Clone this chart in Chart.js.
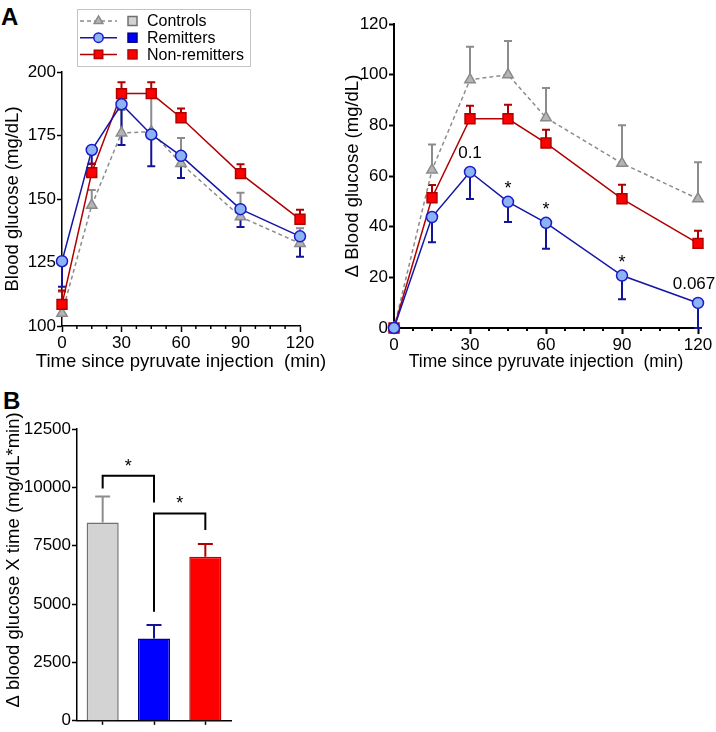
<!DOCTYPE html>
<html>
<head>
<meta charset="utf-8">
<script src="https://cdn.jsdelivr.net/npm/chart.js@4.4.1/dist/chart.umd.min.js"></script>
<style>
  body { margin: 0; background: #fff; width: 716px; height: 732px; position: relative; overflow: hidden; font-family: "Liberation Sans", Arial, sans-serif; }
  canvas { position: absolute; }
  .panel { position: absolute; font-weight: bold; font-size: 24px; line-height: 1; }
</style>
</head>
<body>
<div class="panel" style="left:1px;top:5px">A</div>
<div class="panel" style="left:3px;top:389px">B</div>
<canvas id="rawChart" width="360" height="380" style="left:0;top:0"></canvas>
<canvas id="deltaChart" width="386" height="380" style="left:330px;top:0"></canvas>
<canvas id="aucChart" width="360" height="352" style="left:0;top:380px"></canvas>
<script>
// ---- data ----
const timePoints = [0, 15, 30, 45, 60, 90, 120];
const groupNames = ['Controls', 'Remitters', 'Non-remitters'];

// blood glucose (mg/dL), error shown one-sided
const controlsGlucose = [105, 147.5, 176, 176.5, 164, 143, 132.5];
const controlsGlucoseErr = [8.5, 6, 9, 14.5, 10, 9.5, 6];
const remittersGlucose = [125.5, 169.3, 187.3, 175.4, 167, 146, 135.3];
const remittersGlucoseErr = [10, 5.5, 16, 12.5, 8.7, 7, 8];
const nonRemittersGlucose = [108.5, 160.4, 191.5, 191.5, 182, 160, 142];
const nonRemittersGlucoseErr = [5.5, 3.6, 4.5, 4.5, 3.6, 3.7, 3.8];

// delta blood glucose (mg/dL)
const controlsDelta = [0, 62.4, 98, 100, 83, 65, 51];
const controlsDeltaErr = [0, 10, 13, 13.3, 11.7, 15, 14.4];
const remittersDelta = [0, 43.8, 61.6, 49.8, 41.5, 20.7, 9.9];
const remittersDeltaErr = [0, 10, 10.7, 8, 10.2, 9.4, 9.9];
const nonRemittersDelta = [0, 51.4, 82.6, 82.6, 73, 51, 33.4];
const nonRemittersDeltaErr = [0, 5, 5.1, 5.5, 5.3, 5.5, 5];
const remittersNotes = ['', '', '0.1', '*', '*', '*', '0.067'];

// area under the curve (mg/dL*min)
const aucValues = [8490, 3530, 7030];
const aucErr = [1120, 570, 540];
const aucBrackets = [
    { from: 0, to: 1, top: 10500, leftEnd: 9950, rightEnd: 9350, label: '*' },
    { from: 1, to: 2, top: 8880, leftEnd: 4670, rightEnd: 8170, label: '*' },
];

// ---- styles ----
const styles = [
    { line: '#8c8c8c', dash: [4, 3], point: 'triangle', radius: 6, pointFill: '#b4b4b4', pointBorder: '#8a8a8a', err: '#8c8c8c', dir: 1, barFill: '#d3d3d3', barBorder: '#707070', order: 2 },
    { line: '#1515a8', dash: [], point: 'circle', radius: 5.5, pointFill: '#8cb4f5', pointBorder: '#1a1ac8', err: '#14149a', dir: -1, barFill: '#0000ff', barBorder: '#00008a', order: 0 },
    { line: '#b00000', dash: [], point: 'rect', radius: 7, pointFill: '#ff0000', pointBorder: '#b00000', err: '#b00000', dir: 1, barFill: '#ff0000', barBorder: '#c00000', order: 1 },
];

const FONT = '"Liberation Sans", Arial, sans-serif';
Chart.defaults.font.family = FONT;
Chart.defaults.color = '#000';

// one-sided error bars (direction taken from each dataset)
const errorBarPlugin = {
    id: 'errorBars',
    beforeDatasetsDraw(chart, args, opts) {
        const ctx = chart.ctx;
        const yScale = chart.scales.y;
        chart.data.datasets.forEach((ds, i) => {
            if (!ds.errors) return;
            const meta = chart.getDatasetMeta(i);
            ctx.save();
            ctx.strokeStyle = ds.errorColor;
            ctx.lineWidth = opts.width;
            meta.data.forEach((el, j) => {
                const err = ds.errors[j];
                if (!err) return;
                const d = ds.data[j];
                const v = typeof d === 'object' ? d.y : d;
                const y0 = yScale.getPixelForValue(v);
                const y1 = yScale.getPixelForValue(v + ds.errorDir * err);
                ctx.beginPath();
                ctx.moveTo(el.x, y0);
                ctx.lineTo(el.x, y1);
                ctx.moveTo(el.x - opts.cap, y1);
                ctx.lineTo(el.x + opts.cap, y1);
                ctx.stroke();
            });
            ctx.restore();
        });
    }
};

// short unlabelled ticks between the major ones
const minorTicksPlugin = {
    id: 'minorTicks',
    afterDraw(chart, args, opts) {
        const xs = chart.scales.x;
        const ctx = chart.ctx;
        const yb = chart.chartArea.bottom;
        ctx.save();
        ctx.strokeStyle = '#000';
        ctx.lineWidth = opts.width;
        for (let v = xs.min; v <= xs.max; v += opts.step) {
            if (v % opts.major === 0) continue;
            const px = xs.getPixelForValue(v);
            ctx.beginPath();
            ctx.moveTo(px, yb);
            ctx.lineTo(px, yb + opts.length);
            ctx.stroke();
        }
        ctx.restore();
    }
};

// axis titles that may run past the ends of their axis
const axisTitles = items => ({
    id: 'axisTitles',
    afterDraw(chart) {
        const ctx = chart.ctx;
        items.forEach(t => {
            const s = chart.scales[t.axis];
            ctx.save();
            ctx.font = t.size + 'px ' + FONT;
            ctx.fillStyle = '#000';
            ctx.textAlign = 'center';
            ctx.textBaseline = 'middle';
            if (t.axis === 'x') {
                ctx.fillText(t.text, (s.left + s.right) / 2, s.bottom - t.offset);
            } else {
                ctx.translate(t.offset, (s.top + s.bottom) / 2 + t.shift);
                ctx.rotate(-Math.PI / 2);
                ctx.fillText(t.text, 0, 0);
            }
            ctx.restore();
        });
    }
});

// text above points (p values / stars)
const pointNotesPlugin = {
    id: 'pointNotes',
    afterDatasetsDraw(chart) {
        const ctx = chart.ctx;
        chart.data.datasets.forEach((ds, i) => {
            if (!ds.notes) return;
            const meta = chart.getDatasetMeta(i);
            ctx.save();
            ctx.fillStyle = '#000';
            ctx.textAlign = 'center';
            ctx.textBaseline = 'middle';
            meta.data.forEach((el, j) => {
                const t = ds.notes[j];
                if (!t) return;
                if (t === '*') {
                    ctx.font = '18px ' + FONT;
                    ctx.fillText(t, el.x, el.y - 13);
                } else {
                    ctx.font = '17px ' + FONT;
                    ctx.fillText(t, el.x - (j === timePoints.length - 1 ? 4 : 0), el.y - 19);
                }
            });
            ctx.restore();
        });
    }
};

// legend: line sample + bar swatch + name
const groupLegendPlugin = {
    id: 'groupLegend',
    afterDraw(chart) {
        const ctx = chart.ctx;
        ctx.save();
        ctx.strokeStyle = '#c4c4c4';
        ctx.lineWidth = 1;
        ctx.strokeRect(77.5, 9.5, 173, 57);
        groupNames.forEach((name, i) => {
            const s = styles[i];
            const y = 21 + i * 16.7;
            ctx.strokeStyle = s.line;
            ctx.lineWidth = 1.5;
            ctx.setLineDash(s.dash);
            ctx.beginPath();
            ctx.moveTo(80, y);
            ctx.lineTo(117, y);
            ctx.stroke();
            ctx.setLineDash([]);
            ctx.fillStyle = s.pointFill;
            ctx.strokeStyle = s.pointBorder;
            ctx.lineWidth = 1.5;
            Chart.helpers.drawPoint(ctx, { pointStyle: s.point, radius: s.radius * 0.85, borderWidth: 1.5, rotation: 0 }, 98.5, y);
            ctx.fillStyle = s.barFill;
            ctx.strokeStyle = s.barBorder;
            ctx.fillRect(128, y - 4.5, 9, 9);
            ctx.strokeRect(128, y - 4.5, 9, 9);
            ctx.fillStyle = '#000';
            ctx.font = '16px ' + FONT;
            ctx.textAlign = 'left';
            ctx.textBaseline = 'middle';
            ctx.fillText(name, 147, y + 1);
        });
        ctx.restore();
    }
};

// significance brackets for the bar chart
const bracketPlugin = {
    id: 'brackets',
    afterDatasetsDraw(chart) {
        const ctx = chart.ctx;
        const xs = chart.scales.x, ys = chart.scales.y;
        ctx.save();
        ctx.strokeStyle = '#000';
        ctx.lineWidth = 2;
        aucBrackets.forEach(b => {
            const x1 = xs.getPixelForValue(b.from), x2 = xs.getPixelForValue(b.to);
            const yt = ys.getPixelForValue(b.top);
            ctx.beginPath();
            ctx.moveTo(x1, ys.getPixelForValue(b.leftEnd));
            ctx.lineTo(x1, yt);
            ctx.lineTo(x2, yt);
            ctx.lineTo(x2, ys.getPixelForValue(b.rightEnd));
            ctx.stroke();
            ctx.fillStyle = '#000';
            ctx.font = '18px ' + FONT;
            ctx.textAlign = 'center';
            ctx.textBaseline = 'middle';
            ctx.fillText(b.label, (x1 + x2) / 2, yt - 9);
        });
        ctx.restore();
    }
};

const barErrorPlugin = {
    id: 'barErrors',
    afterDatasetsDraw(chart) {
        const ctx = chart.ctx;
        const ys = chart.scales.y;
        const ds = chart.data.datasets[0];
        chart.getDatasetMeta(0).data.forEach((el, j) => {
            const y0 = ys.getPixelForValue(ds.data[j]);
            const y1 = ys.getPixelForValue(ds.data[j] + ds.errors[j]);
            ctx.save();
            ctx.strokeStyle = ds.errorColor[j];
            ctx.lineWidth = 2;
            ctx.beginPath();
            ctx.moveTo(el.x, y0);
            ctx.lineTo(el.x, y1);
            ctx.moveTo(el.x - 7.5, y1);
            ctx.lineTo(el.x + 7.5, y1);
            ctx.stroke();
            ctx.restore();
        });
    }
};

const toPoints = values => values.map((v, i) => ({ x: timePoints[i], y: v }));

const lineDataset = (i, values, errors) => ({
    label: groupNames[i],
    data: toPoints(values),
    errors: errors,
    errorDir: styles[i].dir,
    errorColor: styles[i].err,
    borderColor: styles[i].line,
    borderWidth: 1.5,
    borderDash: styles[i].dash,
    pointStyle: styles[i].point,
    pointRadius: styles[i].radius,
    pointBackgroundColor: styles[i].pointFill,
    pointBorderColor: styles[i].pointBorder,
    pointBorderWidth: 1.5,
    order: styles[i].order,
    clip: false,
    tension: 0,
});

const lineOptions = (yMin, yMax, yStep, yTitle, layout) => ({
    responsive: false,
    animation: false,
    layout: { padding: layout.padding },
    plugins: {
        legend: { display: false },
        tooltip: { enabled: false },
        errorBars: { width: 2, cap: 4 },
        minorTicks: { step: 7.5, major: 30, length: 3, width: layout.axisWidth },
    },
    scales: {
        x: {
            type: 'linear',
            min: 0,
            max: 120,
            afterFit: s => { s.height = layout.xHeight; },
            border: { color: '#000', width: layout.axisWidth },
            grid: { drawOnChartArea: false, tickLength: 6, tickColor: '#000', tickWidth: layout.axisWidth },
            ticks: { stepSize: 30, padding: 1, font: { size: 17 }, maxRotation: 0 },
        },
        y: {
            min: yMin,
            max: yMax,
            afterFit: s => { s.width = layout.yWidth; },
            border: { color: '#000', width: layout.axisWidth },
            grid: { drawOnChartArea: false, tickLength: 5, tickColor: '#000', tickWidth: layout.axisWidth },
            ticks: { stepSize: yStep, padding: 1, font: { size: 17 } },
            title: { display: true, text: yTitle, font: { size: 18.5 }, padding: { top: layout.yTitlePad, bottom: 0 } },
        },
    },
});

// ---- panel A, blood glucose ----
new Chart(document.getElementById('rawChart'), {
    type: 'line',
    data: {
        datasets: [
            lineDataset(0, controlsGlucose, controlsGlucoseErr),
            lineDataset(1, remittersGlucose, remittersGlucoseErr),
            lineDataset(2, nonRemittersGlucose, nonRemittersGlucoseErr),
        ],
    },
    options: lineOptions(100, 200, 25, 'Blood glucose (mg/dL)', {
        padding: { top: 72, right: 60, left: 0, bottom: 0 },
        xHeight: 54, yWidth: 62, yTitlePad: 1.5, axisWidth: 1.5,
    }),
    plugins: [errorBarPlugin, minorTicksPlugin, groupLegendPlugin,
        axisTitles([{ axis: 'x', text: 'Time since pyruvate injection  (min)', size: 18.5, offset: 18 }])],
});

// ---- panel A, delta blood glucose ----
const remDeltaSet = lineDataset(1, remittersDelta, remittersDeltaErr);
remDeltaSet.notes = remittersNotes;
new Chart(document.getElementById('deltaChart'), {
    type: 'line',
    data: {
        datasets: [
            lineDataset(0, controlsDelta, controlsDeltaErr),
            remDeltaSet,
            lineDataset(2, nonRemittersDelta, nonRemittersDeltaErr),
        ],
    },
    options: lineOptions(0, 120, 20, '\u0394 Blood glucose (mg/dL)', {
        padding: { top: 24, right: 18, left: 0, bottom: 0 },
        xHeight: 52, yWidth: 64, yTitlePad: 12, axisWidth: 2,
    }),
    plugins: [errorBarPlugin, minorTicksPlugin, pointNotesPlugin,
        axisTitles([{ axis: 'x', text: 'Time since pyruvate injection  (min)', size: 17.5, offset: 18 }])],
});

// ---- panel B, AUC bars ----
new Chart(document.getElementById('aucChart'), {
    type: 'bar',
    data: {
        labels: groupNames,
        datasets: [{
            data: aucValues,
            errors: aucErr,
            errorColor: styles.map(s => s.err),
            backgroundColor: styles.map(s => s.barFill),
            borderColor: styles.map(s => s.barBorder),
            borderWidth: 1.5,
            categoryPercentage: 1,
            barPercentage: 0.625,
        }],
    },
    options: {
        responsive: false,
        animation: false,
        layout: { padding: { top: 49, right: 129, left: 0, bottom: 0 } },
        plugins: {
            legend: { display: false },
            tooltip: { enabled: false },
        },
        scales: {
            x: {
                afterFit: s => { s.height = 11; },
                border: { color: '#000', width: 1.5 },
                grid: { drawOnChartArea: false, offset: false, tickLength: 4, tickColor: '#000', tickWidth: 1.5 },
                ticks: { display: false },
            },
            y: {
                min: 0,
                max: 12500,
                afterFit: s => { s.width = 77; },
                border: { color: '#000', width: 1.5 },
                grid: { drawOnChartArea: false, tickLength: 5, tickColor: '#000', tickWidth: 1.5 },
                ticks: { stepSize: 2500, padding: 1, font: { size: 17 }, callback: v => String(v) },
            },
        },
    },
    plugins: [barErrorPlugin, bracketPlugin,
        axisTitles([{ axis: 'y', text: '\u0394 blood glucose X time (mg/dL*min)', size: 18.5, offset: 14, shift: -15 }])],
});
</script>
</body>
</html>
